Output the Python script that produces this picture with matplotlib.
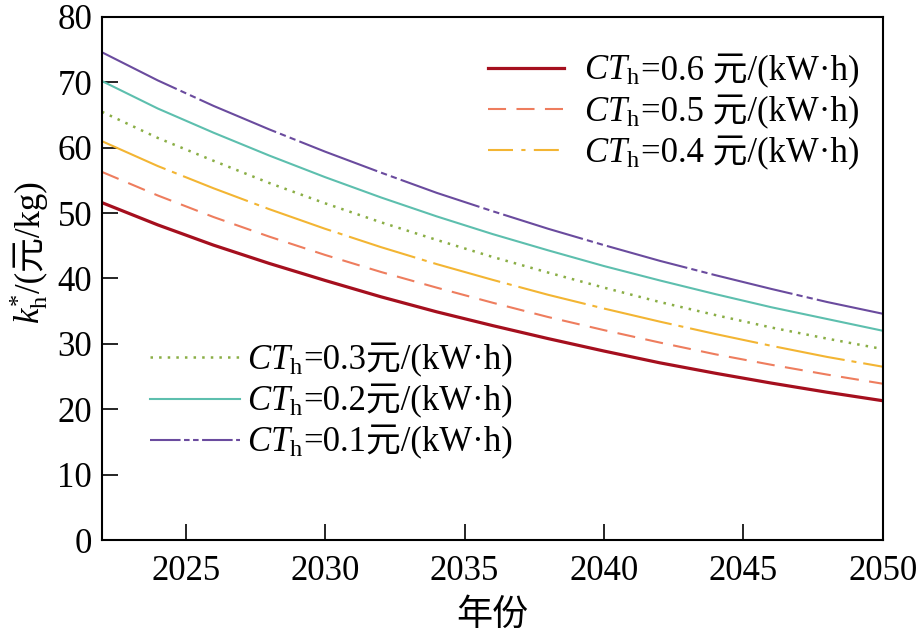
import matplotlib
matplotlib.use("Agg")
import matplotlib.pyplot as plt
from matplotlib.lines import Line2D

plt.rcParams['font.family'] = ['Liberation Serif', 'Noto Sans CJK SC']
plt.rcParams['mathtext.fontset'] = 'custom'
plt.rcParams['mathtext.rm'] = 'Liberation Serif'
plt.rcParams['mathtext.it'] = 'Liberation Serif:italic'
plt.rcParams['lines.scale_dashes'] = False

years = [2022, 2024, 2026, 2028, 2030, 2032, 2034, 2036, 2038, 2040, 2042, 2044, 2046, 2048, 2050]
k_06 = [51.6, 48.2, 45.1, 42.3, 39.7, 37.2, 34.9, 32.8, 30.8, 28.9, 27.1, 25.5, 24.0, 22.6, 21.3]
k_05 = [56.3, 52.7, 49.4, 46.4, 43.6, 41.0, 38.6, 36.3, 34.1, 32.1, 30.2, 28.4, 26.8, 25.3, 23.9]
k_04 = [61.0, 57.2, 53.8, 50.6, 47.6, 44.8, 42.2, 39.8, 37.5, 35.4, 33.4, 31.5, 29.7, 28.0, 26.5]
k_03 = [65.5, 61.5, 58.0, 54.6, 51.5, 48.6, 45.9, 43.3, 40.9, 38.6, 36.4, 34.4, 32.5, 30.8, 29.2]
k_02 = [70.2, 66.0, 62.3, 58.8, 55.5, 52.4, 49.5, 46.8, 44.3, 41.9, 39.7, 37.6, 35.6, 33.8, 32.0]
k_01 = [74.6, 70.3, 66.4, 62.8, 59.4, 56.2, 53.1, 50.3, 47.6, 45.1, 42.7, 40.5, 38.4, 36.4, 34.6]

labels = ['0.6 ', '0.5 ', '0.4 ', '0.3', '0.2', '0.1']
xticks = [2025, 2030, 2035, 2040, 2045, 2050]
yticks = [0, 10, 20, 30, 40, 50, 60, 70, 80]

colors = ['#A50F1E', '#EE7D5E', '#F3B533', '#8AAE45', '#5DBFAE', '#6A4B9E']
widths = [2.3, 1.5, 1.5, 1.8, 1.5, 1.5]
plot_styles = ['-', (0, (13, 7.5)), (0, (50, 5, 3.6, 5)), (0, (1.8, 4.4)), '-',
               (0, (60, 3, 4.5, 3, 4.5, 3))]
leg_styles = ['-', (0, (13, 7.5)), (0, (18, 6, 3, 6)), (0, (1.8, 4.4)), '-',
              (0, (22, 2.5, 4, 2.5, 4, 2.5))]
series = [k_06, k_05, k_04, k_03, k_02, k_01]

FS = 25
fig = plt.figure(figsize=(9.21, 6.38), dpi=100)
ax = fig.add_axes([0.1107, 0.1536, 0.848, 0.8198])

for y, c, w, ls in zip(series, colors, widths, plot_styles):
    ax.plot(years, y, color=c, lw=w, linestyle=ls, dash_capstyle='butt')

ax.set_xlim(2022, 2050)
ax.set_ylim(0, 80)
ax.set_xticks(xticks)
ax.set_yticks(yticks)
ax.tick_params(direction='in', length=11.5, width=1.2, labelsize=FS)
ax.tick_params(axis='x', pad=11)
ax.tick_params(axis='y', pad=7)
for s in ax.spines.values():
    s.set_linewidth(1.5)

ax.set_xlabel('年份', fontsize=26, labelpad=8)

fig.canvas.draw()
renderer = fig.canvas.get_renderer()
math_ct = r'$\mathit{CT}_{\mathrm{h}}$'
tmp = fig.text(0, 0, math_ct, fontsize=FS)
w_ct = tmp.get_window_extent(renderer).width
tmp.remove()
fs_px = FS * fig.dpi / 72.0

def lab(v):
    return '=' + v + '元/(kW·h)'

h1 = [Line2D([], [], color=colors[i], lw=widths[i], linestyle=leg_styles[i],
             dash_capstyle='butt') for i in range(3)]
leg1 = ax.legend(h1, [lab(labels[i]) for i in range(3)], loc='upper left',
                 bbox_to_anchor=(0.494, 0.929), frameon=False, fontsize=FS,
                 handlelength=2.2, handletextpad=(20 + w_ct) / fs_px,
                 labelspacing=0.2, borderpad=0, borderaxespad=0)
ax.add_artist(leg1)
h2 = [Line2D([], [], color=colors[i], lw=widths[i], linestyle=leg_styles[i],
             dash_capstyle='butt') for i in range(3, 6)]
leg2 = ax.legend(h2, [lab(labels[i]) for i in range(3, 6)], loc='upper left',
                 bbox_to_anchor=(0.061, 0.376), frameon=False, fontsize=FS,
                 handlelength=2.6, handletextpad=(7 + w_ct) / fs_px,
                 labelspacing=0.2, borderpad=0, borderaxespad=0)

fig.canvas.draw()
inv = fig.transFigure.inverted()
for leg in (leg1, leg2):
    for t in leg.get_texts():
        px, py = t.get_transform().transform(t.get_position())
        fx, fy = inv.transform((px, py))
        fig.text(fx, fy, math_ct, fontsize=FS, ha='right', va='baseline')

# y label: math part + plain part, rotated
ymath = r'$k_{\mathrm{h}}^{*}$'
yplain = '/(元/kg)'
t1 = fig.text(0, 0, ymath, fontsize=FS)
t2 = fig.text(0, 0, yplain, fontsize=FS)
wm = t1.get_window_extent(renderer).width
wp = t2.get_window_extent(renderer).width
t1.remove()
t2.remove()
cy = 253
anchor_y_px = 638 - cy - (wm + wp) / 2.0 + wm
base_x_px = 40
fx, fy = base_x_px / 921.0, anchor_y_px / 638.0
fig.text(fx, fy, ymath, fontsize=FS, rotation=90, rotation_mode='anchor',
         ha='right', va='baseline')
fig.text(fx, fy, yplain, fontsize=FS, rotation=90, rotation_mode='anchor',
         ha='left', va='baseline')

fig.savefig('out.png', dpi=100)
